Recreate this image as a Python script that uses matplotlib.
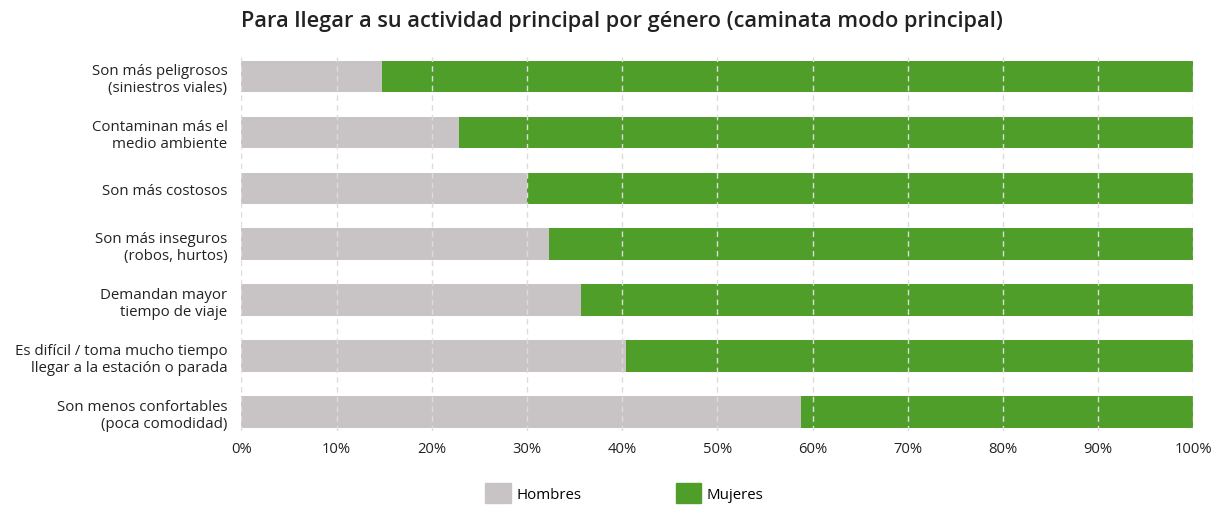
import numpy as np
import matplotlib.pyplot as plt
from matplotlib.patches import Patch
from matplotlib.ticker import PercentFormatter

plt.rcParams['font.family'] = ['Open Sans', 'DejaVu Sans']

categorias = ["Son más peligrosos\n(siniestros viales)",
              "Contaminan más el\nmedio ambiente",
              "Son más costosos",
              "Son más inseguros\n(robos, hurtos)",
              "Demandan mayor\ntiempo de viaje",
              "Es difícil / toma mucho tiempo\nllegar a la estación o parada",
              "Son menos confortables\n(poca comodidad)"]
hombres = [14.8, 22.9, 30.0, 32.3, 35.7, 40.4, 58.8]
mujeres = [100 - h for h in hombres]

gris = '#c8c4c5'
verde = '#4f9e2a'

fig = plt.figure(figsize=(12.19, 5.06), dpi=100)
ax = fig.add_axes([0.198, 0.146, 0.781, 0.739])

y = np.arange(len(categorias))
ax.barh(y, hombres, height=0.56, color=gris, zorder=1)
ax.barh(y, mujeres, left=hombres, height=0.56, color=verde, zorder=1)

ax.set_xlim(0, 100)
ax.set_ylim(6.34, -0.34)
ax.set_xticks(np.arange(0, 101, 10))
ax.xaxis.set_major_formatter(PercentFormatter(decimals=0))
ax.set_yticks(y)
ax.set_yticklabels(categorias, fontsize=10.8, color='#222222')
ax.tick_params(axis='x', labelsize=10.6, colors='#222222', length=0, pad=7)
ax.tick_params(axis='y', length=0, pad=10)
for s in ax.spines.values():
    s.set_visible(False)
ax.grid(axis='x', color='#dcdcdc', linestyle=(0, (4, 3)), linewidth=1, zorder=3)
ax.set_axisbelow(False)

fig.text(0.198, 0.958, "Para llegar a su actividad principal por género (caminata modo principal)",
         fontsize=15.7, fontweight='semibold', color='#222222', ha='left', va='center')

handles = [Patch(color=gris, label='Hombres'), Patch(color=verde, label='Mujeres')]
fig.legend(handles=handles, loc='center', bbox_to_anchor=(0.512, 0.024), ncol=2,
           frameon=False, fontsize=10.8, handlelength=1.7, handleheight=1.7,
           columnspacing=6.3, handletextpad=0.35)

fig.savefig('out.png', dpi=100)
